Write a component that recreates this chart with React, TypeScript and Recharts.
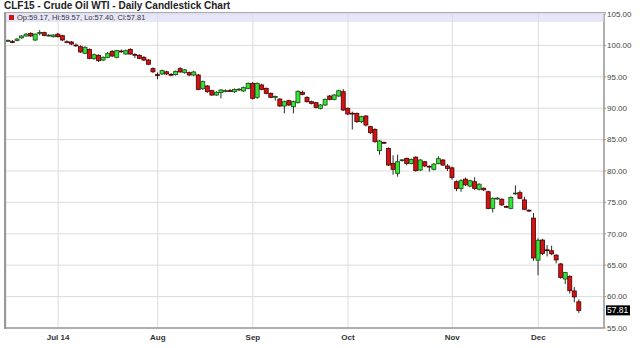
import {
  ComposedChart,
  Bar,
  XAxis,
  YAxis,
  CartesianGrid,
  ReferenceLine,
} from "recharts";

// trading days, CLF15, Jun 16 - Dec 12 2014
const dates = [
  "Jun 16", "Jun 17", "Jun 18", "Jun 19", "Jun 20", "Jun 23", "Jun 24", "Jun 25", "Jun 26", "Jun 27", "Jun 30",
  "Jul 1", "Jul 2", "Jul 3", "Jul 7", "Jul 8", "Jul 9", "Jul 10", "Jul 11", "Jul 14", "Jul 15", "Jul 16",
  "Jul 17", "Jul 18", "Jul 21", "Jul 22", "Jul 23", "Jul 24", "Jul 25", "Jul 28", "Jul 29", "Jul 30", "Jul 31",
  "Aug 1", "Aug 4", "Aug 5", "Aug 6", "Aug 7", "Aug 8", "Aug 11", "Aug 12", "Aug 13", "Aug 14", "Aug 15",
  "Aug 18", "Aug 19", "Aug 20", "Aug 21", "Aug 22", "Aug 25", "Aug 26", "Aug 27", "Aug 28", "Aug 29",
  "Sep 2", "Sep 3", "Sep 4", "Sep 5", "Sep 8", "Sep 9", "Sep 10", "Sep 11", "Sep 12", "Sep 15", "Sep 16",
  "Sep 17", "Sep 18", "Sep 19", "Sep 22", "Sep 23", "Sep 24", "Sep 25", "Sep 26", "Sep 29", "Sep 30",
  "Oct 1", "Oct 2", "Oct 3", "Oct 6", "Oct 7", "Oct 8", "Oct 9", "Oct 10", "Oct 13", "Oct 14", "Oct 15",
  "Oct 16", "Oct 17", "Oct 20", "Oct 21", "Oct 22", "Oct 23", "Oct 24", "Oct 27", "Oct 28", "Oct 29",
  "Oct 30", "Oct 31",
  "Nov 3", "Nov 4", "Nov 5", "Nov 6", "Nov 7", "Nov 10", "Nov 11", "Nov 12", "Nov 13", "Nov 14", "Nov 17",
  "Nov 18", "Nov 19", "Nov 20", "Nov 21", "Nov 24", "Nov 25", "Nov 26", "Nov 28",
  "Dec 1", "Dec 2", "Dec 3", "Dec 4", "Dec 5", "Dec 8", "Dec 9", "Dec 10", "Dec 11", "Dec 12",
];

const opens = [
  100.7, 100.6, 100.78, 101.2, 101.5, 101.92, 100.86, 101.98, 102.03, 101.55, 101.38,
  101.8, 101.55, 100.58, 100.54, 100.05, 99.8, 98.74, 99.37, 97.89, 98.42, 97.67,
  98.1, 99.06, 98.1, 99.1, 98.63, 99.37, 98.56, 98.42, 98.1, 97.67, 96.3,
  95.35, 95.45, 95.8, 95.38, 95.34, 96.3, 95.66, 95.66, 95.29, 95.29, 93.16,
  93.54, 92.79, 92.1, 92.47, 92.75, 92.8, 92.63, 92.98, 92.74, 93.16,
  93.96, 91.73, 93.7, 93.16, 92.37, 91.8, 91.46, 90.35, 91.2, 90.24, 90.88,
  92.53, 91.73, 91.04, 90.88, 89.98, 90.51, 91.94, 91.41, 91.94, 92.63,
  89.98, 89.2, 89.18, 87.86, 88.76, 87.06, 86.63, 83.24, 84.55, 83.6, 81.22,
  79.63, 81.7, 82.0, 81.2, 82.2, 80.16, 81.48, 80.75, 80.27, 81.2,
  81.75, 80.8,
  80.5, 78.3, 77.2, 78.7, 77.6, 78.3, 77.1, 77.25, 76.7, 74.05, 75.6,
  75.5, 74.35, 74.05, 76.4, 76.55, 75.4, 73.75, 72.5,
  65.8, 69.0, 67.45, 67.3, 66.6, 65.2, 62.8, 63.2, 60.9, 59.17,
];

const highs = [
  100.95, 100.85, 101.15, 101.65, 101.95, 102.1, 101.9, 102.45, 102.2, 101.8, 101.8,
  102.0, 101.7, 100.8, 100.7, 100.3, 100.0, 99.85, 99.5, 98.7, 98.6, 98.25,
  98.95, 99.25, 99.3, 99.35, 99.35, 99.55, 98.75, 98.6, 98.3, 97.85, 96.5,
  95.7, 96.15, 95.95, 95.6, 96.0, 96.55, 96.25, 95.85, 95.95, 95.45, 94.4,
  93.7, 92.95, 92.7, 93.05, 93.0, 93.05, 93.15, 93.2, 93.45, 94.1,
  94.15, 94.1, 93.9, 93.3, 92.5, 92.0, 91.6, 91.2, 91.35, 91.2, 92.85,
  92.8, 91.9, 91.2, 91.0, 90.65, 91.55, 92.1, 92.25, 92.95, 93.05,
  90.1, 89.45, 89.3, 88.8, 88.9, 87.2, 86.8, 84.95, 84.7, 83.75, 82.5,
  82.6, 81.9, 82.15, 82.0, 82.35, 81.9, 81.6, 80.9, 81.25, 82.35,
  81.9, 81.1,
  80.7, 78.5, 78.7, 78.95, 78.6, 79.0, 78.05, 77.4, 76.85, 75.8, 75.8,
  75.65, 74.5, 75.95, 77.7, 76.9, 75.9, 73.9, 73.3,
  69.3, 69.2, 68.2, 68.1, 66.75, 65.35, 63.95, 63.4, 61.5, 59.57,
];

const lows = [
  100.55, 100.35, 100.65, 101.05, 101.4, 101.35, 100.7, 101.6, 101.45, 101.4, 101.25,
  101.25, 100.7, 100.35, 100.05, 99.8, 98.8, 98.6, 97.8, 97.7, 97.35, 97.5,
  97.95, 98.15, 97.95, 98.85, 98.5, 98.5, 98.0, 97.8, 97.5, 96.85, 95.6,
  94.6, 95.3, 95.3, 95.1, 95.2, 95.65, 95.5, 95.1, 95.1, 92.85, 92.9,
  92.45, 91.95, 91.95, 91.57, 92.55, 92.6, 92.45, 92.75, 92.6, 93.0,
  91.4, 91.5, 92.85, 92.2, 91.6, 91.2, 90.2, 89.18, 90.35, 89.18, 90.75,
  92.05, 90.9, 90.6, 89.95, 89.8, 90.35, 91.25, 91.25, 91.8, 89.55,
  88.9, 86.6, 87.65, 87.6, 87.1, 85.9, 84.5, 82.6, 84.3, 80.8, 79.4,
  79.1, 81.5, 80.9, 81.05, 79.9, 80.0, 80.6, 79.9, 80.1, 81.05,
  80.8, 80.0,
  78.6, 76.8, 76.7, 77.6, 77.4, 77.0, 76.9, 76.8, 73.9, 73.4, 75.4,
  74.45, 74.1, 73.9, 76.2, 75.5, 73.75, 73.5, 65.7,
  63.4, 66.6, 66.4, 66.6, 65.3, 62.85, 62.0, 60.5, 59.1, 57.4,
];

const closes = [
  100.78, 100.55, 101.0, 101.5, 101.8, 101.5, 101.8, 102.05, 101.6, 101.62, 101.65,
  101.39, 100.86, 100.52, 100.22, 99.98, 98.95, 99.7, 97.94, 98.52, 97.57, 98.1,
  98.74, 98.31, 99.16, 99.04, 99.16, 98.63, 98.5, 97.94, 97.67, 97.0, 95.8,
  95.27, 95.98, 95.45, 95.32, 95.87, 95.77, 96.1, 95.29, 95.77, 93.0, 94.23,
  92.63, 92.1, 92.53, 92.9, 92.8, 92.78, 93.0, 93.02, 93.27, 93.96,
  91.57, 93.96, 93.0, 92.37, 91.73, 91.86, 90.35, 91.04, 90.51, 91.04, 92.69,
  92.2, 91.04, 90.77, 90.14, 90.51, 91.41, 91.41, 92.1, 92.79, 89.71,
  89.08, 89.15, 87.86, 88.65, 87.32, 86.1, 84.67, 84.78, 84.48, 80.95, 80.27,
  81.48, 81.78, 81.2, 81.85, 80.05, 81.75, 80.8, 80.68, 81.1, 81.96,
  80.95, 80.42,
  78.95, 77.2, 78.45, 77.8, 78.45, 77.2, 77.9, 77.0, 74.05, 75.65, 75.68,
  74.6, 74.28, 75.8, 76.48, 75.65, 73.9, 73.69, 66.15,
  68.98, 66.88, 67.38, 66.81, 65.84, 63.05, 63.82, 60.94, 59.95, 57.81,
];

const monthTicks = ["Jul 1", "Aug 1", "Sep 2", "Oct 1", "Nov 3", "Dec 1"];
const monthLabels = ["Jul 14", "Aug", "Sep", "Oct", "Nov", "Dec"];
const priceTicks = [55, 60, 65, 70, 75, 80, 85, 90, 95, 100, 105];

const data = dates.map((d, i) => ({
  i,
  d,
  o: opens[i],
  h: highs[i],
  l: lows[i],
  c: closes[i],
}));

const last = data[data.length - 1];
const tickIdx = monthTicks.map((m) => dates.indexOf(m));
const FONT = "'Liberation Sans', Arial, sans-serif";

const Candle = (props: any) => {
  const { x, y, width, height, payload } = props;
  if (!payload || height == null) return null;
  const { o, h, l, c } = payload;
  const cx = x + width / 2;
  const ppu = height / (h - l);
  const top = y + (h - Math.max(o, c)) * ppu;
  const bot = y + (h - Math.min(o, c)) * ppu;
  const up = c >= o;
  return (
    <g>
      <line x1={cx} x2={cx} y1={y} y2={y + height} stroke="#2a2a2a" strokeWidth={1} />
      <rect
        x={cx - 2}
        y={top}
        width={4}
        height={Math.max(bot - top, 0.8)}
        fill={up ? "#33e633" : "#d01414"}
        stroke={up ? "#1a4a1a" : "#4a0000"}
        strokeWidth={0.8}
      />
    </g>
  );
};

const LastLabel = (props: any) => {
  const { viewBox } = props;
  if (!viewBox) return null;
  const bx = viewBox.x + viewBox.width + 2;
  const by = viewBox.y;
  return (
    <g>
      <rect x={bx} y={by - 5} width={24} height={10} fill="#000" />
      <text x={bx + 1} y={by + 3} fontSize={8.5} fill="#fff" fontFamily={FONT}>
        {last.c.toFixed(2)}
      </text>
    </g>
  );
};

export default function App() {
  return (
    <div
      style={{
        position: "absolute",
        left: 0,
        top: 0,
        width: 640,
        height: 348,
        background: "#fff",
        fontFamily: FONT,
      }}
    >
      <div
        style={{
          position: "absolute",
          left: 4,
          top: 0,
          fontSize: 10,
          fontWeight: "bold",
          color: "#222",
          whiteSpace: "nowrap",
        }}
      >
        CLF15 - Crude Oil WTI - Daily Candlestick Chart
      </div>
      <ComposedChart
        width={640}
        height={348}
        data={data}
        margin={{ top: 14, right: 2, bottom: 2, left: 6 }}
      >
        <CartesianGrid stroke="#dcdcdc" />
        <XAxis
          dataKey="i"
          type="number"
          domain={[-0.5, 131.5]}
          ticks={tickIdx}
          tickFormatter={(v) => monthLabels[tickIdx.indexOf(v)] ?? ""}
          height={18}
          axisLine={{ stroke: "#999", strokeWidth: 1.5 }}
          tickLine={false}
          tickSize={4}
          tickMargin={2}
          tick={{ fontSize: 8, fontWeight: "bold", fill: "#333", fontFamily: FONT }}
          allowDataOverflow
        />
        <YAxis
          orientation="right"
          domain={[55, 105]}
          ticks={priceTicks}
          tickFormatter={(v) => v.toFixed(2)}
          width={34}
          axisLine={{ stroke: "#999", strokeWidth: 1.5 }}
          tickLine={{ stroke: "#999" }}
          tickSize={2}
          tickMargin={1}
          tick={{ fontSize: 8, fill: "#444", fontFamily: FONT, textAnchor: "start" }}
          allowDataOverflow
        />
        <Bar
          dataKey={(d: any) => [d.l, d.h]}
          barSize={4}
          shape={<Candle />}
          isAnimationActive={false}
        />
        <ReferenceLine y={last.c} stroke="none" label={<LastLabel />} />
      </ComposedChart>
      <div
        style={{
          position: "absolute",
          left: 4,
          top: 12,
          width: 600,
          height: 316,
          borderLeft: "2px solid #999",
          borderTop: "1px solid #aaa",
          pointerEvents: "none",
        }}
      />
      <div
        style={{
          position: "absolute",
          left: 6,
          top: 13,
          width: 598,
          height: 9,
          background: "rgba(215,215,245,0.6)",
          fontSize: 7.5,
          color: "#333",
          lineHeight: "9px",
          whiteSpace: "nowrap",
        }}
      >
        <span
          style={{
            display: "inline-block",
            width: 5,
            height: 5,
            background: "#d01414",
            margin: "0 3px 0 3px",
          }}
        />
        {`Op:${last.o.toFixed(2)}, Hi:${last.h.toFixed(2)}, Lo:${last.l.toFixed(2)}, Cl:${last.c.toFixed(2)}`}
      </div>
    </div>
  );
}
